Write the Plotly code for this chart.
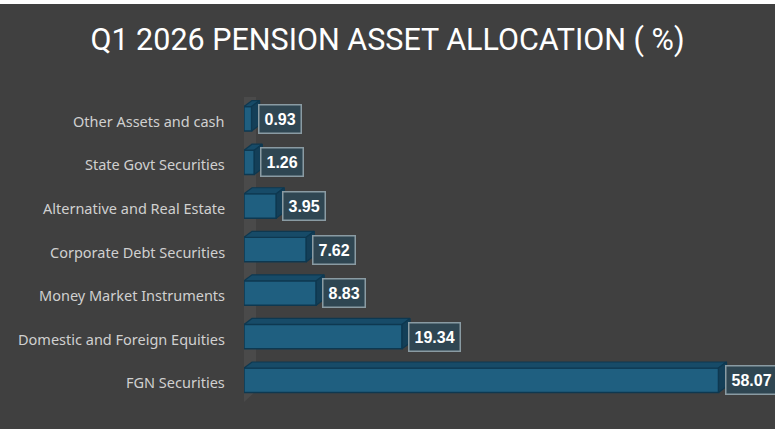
import plotly.graph_objects as go

# ---- data (top to bottom as shown) ----
categories = ["Other Assets and cash", "State Govt Securities", "Alternative and Real Estate",
              "Corporate Debt Securities", "Money Market Instruments",
              "Domestic and Foreign Equities", "FGN Securities"]
values = [0.93, 1.26, 3.95, 7.62, 8.83, 19.34, 58.07]
value_labels = ["0.93", "1.26", "3.95", "7.62", "8.83", "19.34", "58.07"]
title_text = "Q1 2026 PENSION ASSET ALLOCATION ( %)"

# ---- layout constants ----
W, H = 775, 429
ML, MR, MT, MB = 244, 8, 97, 27
XMAX = 64
BAR_W = 0.56
n = len(categories)
cats = categories[::-1]
vals = values[::-1]
labs = value_labels[::-1]
ypos = list(range(n))

pw = W - ML - MR
ph = H - MT - MB
ux = XMAX / pw            # data units per px (x)
uy = n / ph               # data units per px (y)
DX, DY = 8 * ux, 6 * uy   # 3D depth offsets

BG = "#404040"
FRONT = "#1f5f80"
TOP = "#174b68"
SIDE = "#143f58"
EDGE = "#0e3850"

fig = go.Figure()

# wall (left side panel)
wx = 12 * ux
wy = 11 * uy
fig.add_shape(type="path", xref="x", yref="y", layer="below",
              path=f"M 0 -0.5 L 0 {n-0.5} L {wx} {n-0.5+wy} L {wx} {-0.5+wy} Z",
              fillcolor="#4a4a4a", line=dict(width=0))

# top and side faces
tx, ty = [], []
sx, sy = [], []
for y, v in zip(ypos, vals):
    t = y + BAR_W / 2
    b = y - BAR_W / 2
    tx += [0, v, v + DX, DX, 0, None]
    ty += [t, t, t + DY, t + DY, t, None]
    sx += [v, v + DX, v + DX, v, v, None]
    sy += [b, b + DY, t + DY, t, b, None]

fig.add_trace(go.Scatter(x=tx, y=ty, fill="toself", fillcolor=TOP, mode="lines",
                         line=dict(color=EDGE, width=1.2), hoverinfo="skip", showlegend=False))
fig.add_trace(go.Scatter(x=sx, y=sy, fill="toself", fillcolor=SIDE, mode="lines",
                         line=dict(color=EDGE, width=1.2), hoverinfo="skip", showlegend=False))

# front faces
fig.add_trace(go.Bar(x=vals, y=ypos, orientation="h", width=BAR_W,
                     marker=dict(color=FRONT, line=dict(color=EDGE, width=1.5)),
                     showlegend=False, hoverinfo="skip"))

# value labels
lab_font = dict(family="Liberation Sans, Arial", size=16)
for y, v, lab in zip(ypos, vals, labs):
    fig.add_annotation(x=v + DX, y=y, xref="x", yref="y", text=f"<b>{lab}</b>",
                       showarrow=False, xanchor="left", yanchor="middle", xshift=-2,
                       font=dict(**lab_font, color="white"),
                       bgcolor="#2f4652", bordercolor="#8a9ba3", borderwidth=1.5, borderpad=5)

# category labels
for y, c in zip(ypos, cats):
    fig.add_annotation(x=0, y=y, xref="paper", yref="y", text=c, showarrow=False,
                       xanchor="right", yanchor="middle", xshift=-17, yshift=-2,
                       font=dict(family="Noto Sans, Arial", size=14.5, color="#d0d0d0"))

# spreadsheet strip at top
fig.add_shape(type="rect", xref="paper", yref="paper", x0=-ML / pw, x1=1 + MR / pw,
              y0=1 + (MT - 4) / ph, y1=1 + MT / ph + 0.01, fillcolor="white",
              line=dict(width=0), layer="above")

fig.update_layout(
    width=W, height=H,
    margin=dict(l=ML, r=MR, t=MT, b=MB),
    paper_bgcolor=BG, plot_bgcolor=BG,
    title=dict(text=title_text, x=0.5, xref="container", xanchor="center",
               y=1 - 39 / H, yref="container", yanchor="middle",
               font=dict(family="Roboto, Arial", size=30.5, color="white")),
    xaxis=dict(range=[0, XMAX], visible=False, fixedrange=True),
    yaxis=dict(range=[-0.5, n - 0.5], showticklabels=False,
               showgrid=False, zeroline=False, showline=False, ticks="", fixedrange=True),
    bargap=0.44,
)

fig.write_html("out.html", config={"displayModeBar": False},
               post_script="document.body.style.margin='0';document.body.style.background='#404040';")
